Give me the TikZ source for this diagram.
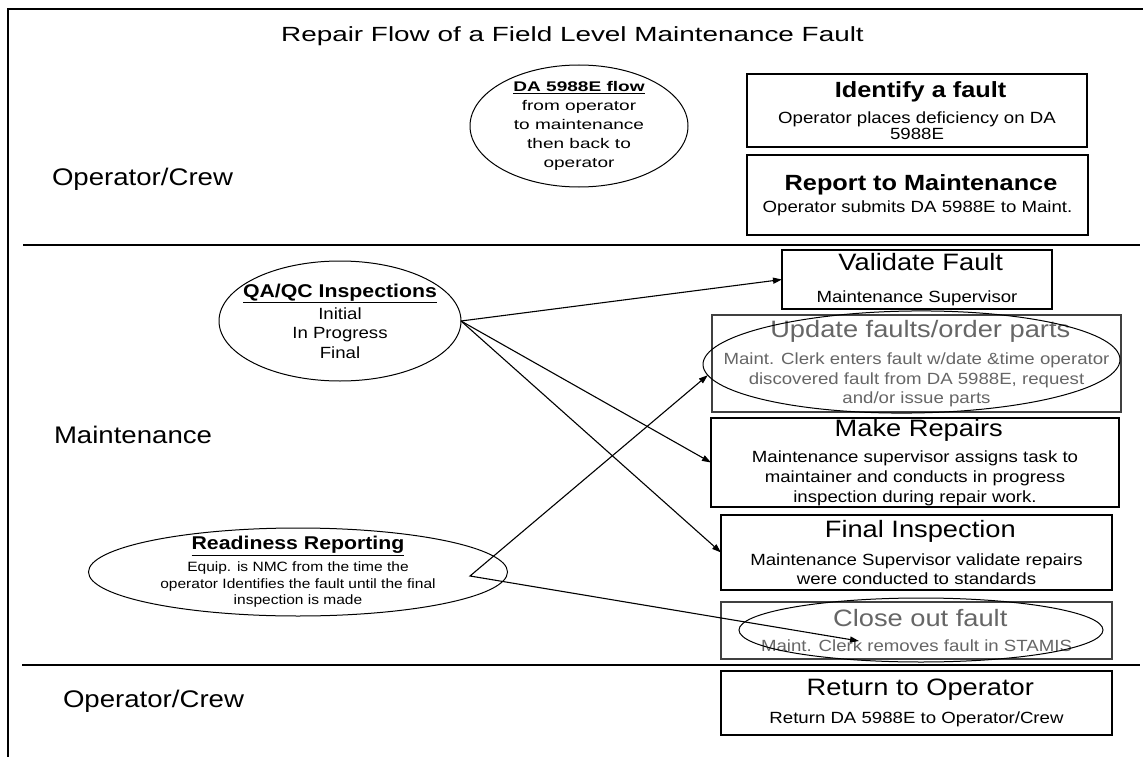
\documentclass[tikz,border=0pt]{standalone}
\usepackage{fontspec}
\setmainfont{Liberation Sans}[FakeStretch=1.15]
\newfontfamily\widefont{Liberation Sans}[FakeStretch=1.36]
\usetikzlibrary{shapes.geometric,arrows.meta}

\definecolor{fadedtext}{gray}{0.40}
\definecolor{fadedline}{gray}{0.25}

% centred lines with the font's own interword spaces
\newcommand{\normalspaces}{\centering\spaceskip=0pt\xspaceskip=0pt\relax}
% title line of a box, a gap, then the body lines
\newcommand{\regtitle}{\fontsize{23.7}{27}\selectfont}
\newcommand{\boldtitle}{\fontsize{22}{25}\selectfont\bfseries}
\newcommand{\boxtext}[5]{\normalspaces{#1 #2\par}\vspace{#3}{\fontsize{16.2}{#4}\selectfont #5\par}}

% texts set inside the note ellipses
\newcommand{\flownote}{\normalspaces\widefont\fontsize{14}{19}\selectfont
  \textbf{\underline{DA 5988E flow}}\\from operator\\to maintenance\\then back to\\operator\par}
\newcommand{\qanote}{\normalspaces
  {\fontsize{18.5}{21}\selectfont\bfseries\underline{QA/QC Inspections}\par}\vspace{2.3pt}%
  {\fontsize{16.2}{19.5}\selectfont Initial\\In Progress\\Final\par}}
\newcommand{\readynote}{\normalspaces
  {\fontsize{18.5}{21}\selectfont\bfseries\underline{Readiness Reporting}\par}\vspace{5.3pt}%
  {\fontsize{13.5}{16.5}\selectfont Equip. is NMC from the time the\\operator Identifies the fault until the final\\inspection is made\par}}

\tikzset{
  every node/.style={inner sep=0pt, outer sep=0pt},
  stepbox/.style={draw=black, line width=1.1pt, rectangle, align=center},
  greybox/.style={stepbox, draw=fadedline, text=fadedtext},
  ring/.style={draw=black, line width=1pt, ellipse, inner sep=0pt},
  ringtext/.style={align=center},
  lanefont/.style={font=\fontsize{24}{28}\selectfont},
  headfont/.style={font=\widefont\fontsize{20.5}{24}\selectfont},
  rule/.style={line width=1.1pt},
  frameline/.style={line width=1.4pt},
  link/.style={line width=1.1pt, -{Triangle[length=9pt,width=6pt]}},
  twoway/.style={line width=1.1pt, {Triangle[length=9pt,width=6pt]}-{Triangle[length=9pt,width=6pt]}}
}

\begin{document}
\begin{tikzpicture}[x=1pt, y=-1pt]
\useasboundingbox[fill=white] (0,0) rectangle (1143,757);

% outer frame and lane separators
\draw[frameline] (8,757) -- (8,9) -- (1143,9);
\draw[rule] (23,245) -- (1140,245);
\draw[rule] (22,665) -- (1140,665);

% heading and lane names
\node[headfont, anchor=base] (heading) at (572.5,42) {Repair Flow of a Field Level Maintenance Fault};
\node[lanefont, anchor=base west] (laneop) at (52,185) {Operator/Crew};
\node[lanefont, anchor=base west] (lanemaint) at (54,443) {Maintenance};
\node[lanefont, anchor=base west] (laneret) at (63,707) {Operator/Crew};

% note ellipses
\node[ring, minimum width=218pt, minimum height=122pt,
  label={[ringtext, text width=200pt]center:\flownote}] (daflow) at (579,126) {};
\node[ring, minimum width=242pt, minimum height=120pt,
  label={[ringtext, text width=230pt]center:\qanote}] (qaqc) at (340,321) {};
\node[ring, minimum width=419pt, minimum height=88pt,
  label={[ringtext, text width=400pt]center:\readynote}] (ready) at (298,572) {};

% operator steps
\node[stepbox, minimum width=340pt, minimum height=73pt, text width=334pt] (identify) at (917,110.5)
  {\boxtext{\boldtitle}{Identify a fault}{8pt}{16pt}{Operator places deficiency on DA\\5988E}};
\node[stepbox, minimum width=341pt, minimum height=80pt, text width=334pt] (report) at (917.5,195)
  {\boxtext{\boldtitle}{Report to Maintenance}{2.5pt}{19.5pt}{Operator submits DA 5988E to Maint.}};

% maintenance steps
\node[stepbox, minimum width=270pt, minimum height=59pt, text width=264pt] (validate) at (917,279.5)
  {\boxtext{\regtitle}{Validate Fault}{13.1pt}{19.5pt}{Maintenance Supervisor}};
\node[greybox, minimum width=409pt, minimum height=97pt, text width=403pt] (update) at (916.5,363.5)
  {\boxtext{\regtitle}{Update faults/order parts}{8.1pt}{19.5pt}{Maint. Clerk enters fault w/date \&time operator\\discovered fault from DA 5988E, request\\and/or issue parts}};
\node[ring, minimum width=417pt, minimum height=102pt, rotate=0.7] (updring) at (911.5,362) {};
\node[stepbox, minimum width=408pt, minimum height=89pt, text width=402pt] (repairs) at (915,462.5)
  {\boxtext{\regtitle}{Make Repairs}{5.6pt}{20pt}{Maintenance supervisor assigns task to\\maintainer and conducts in progress\\inspection during repair work.}};
\node[stepbox, minimum width=391pt, minimum height=75pt, text width=385pt] (final) at (916.5,552.5)
  {\boxtext{\regtitle}{Final Inspection}{8.6pt}{19pt}{Maintenance Supervisor validate repairs\\were conducted to standards}};
\node[greybox, minimum width=391pt, minimum height=57pt, text width=385pt] (closeout) at (916.5,630.5)
  {\boxtext{\regtitle}{Close out fault}{6.1pt}{19.5pt}{Maint. Clerk removes fault in STAMIS}};
\node[ring, minimum width=364pt, minimum height=64pt] (closering) at (921,630) {};

% return step
\node[stepbox, minimum width=391pt, minimum height=64pt, text width=385pt] (return) at (916.5,703)
  {\boxtext{\regtitle}{Return to Operator}{8.1pt}{19.5pt}{Return DA 5988E to Operator/Crew}};

% inspection links
\draw[link] (qaqc.east) -- (validate.west);
\draw[link] (qaqc.east) -- (repairs.west);
\draw[link] (qaqc.east) -- (final.west);

% readiness reporting span
\coordinate (readyturn) at (470,576);
\coordinate (closetip) at (859,641);
\draw[twoway] (updring.183) -- (readyturn) -- (closetip);
\end{tikzpicture}
\end{document}
